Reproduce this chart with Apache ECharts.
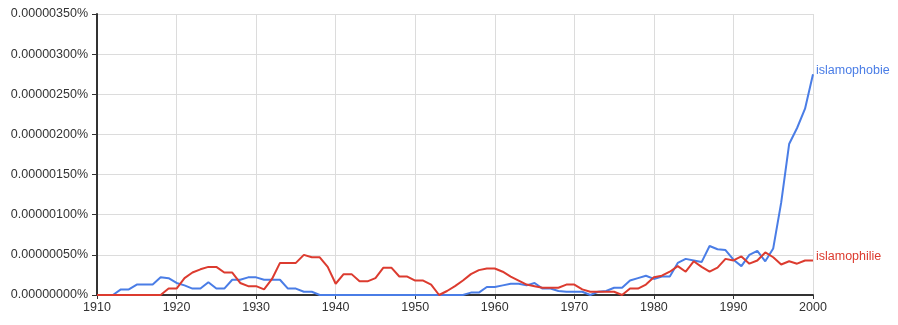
<!DOCTYPE html>
<html>
<head>
<meta charset="utf-8">
<script src="https://cdn.jsdelivr.net/npm/echarts@6/dist/echarts.min.js"></script>
<style>
html,body{margin:0;padding:0;background:#fff;}
#chart{width:898px;height:325px;}
</style>
</head>
<body>
<div id="chart"></div>
<script>
// Values in units of 1e-8 percent (e.g. 50 => 0.00000050%)
var years = [];
for (var y = 1910; y <= 2000; y++) years.push(y);

var islamophobie = [
  0, 0, 0, 7, 7, 13, 13, 13, 22, 21,          // 1910-1919
  15, 12, 8, 8, 16, 8, 8, 19, 19, 22,         // 1920-1929
  22, 19, 19, 19, 8, 8, 4, 4, 0, 0,           // 1930-1939
  0, 0, 0, 0, 0, 0, 0, 0, 0, 0,               // 1940-1949
  0, 0, 0, 0, 0, 0, 0, 3, 3, 10,              // 1950-1959
  10, 12, 14, 14, 12, 15, 8, 8, 5, 4,         // 1960-1969
  4, 4, 0, 4, 5, 9, 9, 18, 21, 24,            // 1970-1979
  20, 23, 23, 40, 45, 43, 41, 61, 57, 56,     // 1980-1989
  44, 36, 50, 55, 42, 58, 115, 188, 208, 232, // 1990-1999
  275                                         // 2000
];

var islamophilie = [
  0, 0, 0, 0, 0, 0, 0, 0, 0, 8,               // 1910-1919
  8, 21, 28, 32, 35, 35, 28, 28, 15, 11,      // 1920-1929
  11, 7, 20, 40, 40, 40, 50, 47, 47, 35,      // 1930-1939
  14, 26, 26, 17, 17, 21, 34, 34, 23, 23,     // 1940-1949
  18, 18, 13, 0, 5, 11, 18, 26, 31, 33,       // 1950-1959
  33, 29, 23, 18, 13, 11, 9, 9, 9, 13,        // 1960-1969
  13, 7, 4, 4, 4, 4, 0, 8, 8, 13,             // 1970-1979
  22, 24, 29, 36, 29, 42, 35, 29, 34, 45,     // 1980-1989
  43, 48, 39, 43, 53, 47, 38, 42, 39, 43,     // 1990-1999
  43                                          // 2000
];

var seriesNames = ['islamophobie', 'islamophilie'];
var seriesColors = ['#4a7de6', '#dc3b2f'];

function pairs(vals) {
  return years.map(function (yr, i) { return [yr, vals[i]]; });
}

var chart = echarts.init(document.getElementById('chart'), null, {renderer: 'canvas'});
var font = 'Liberation Sans, Arial, Helvetica, sans-serif';

function mkSeries(name, vals, color) {
  return {
    name: name,
    type: 'line',
    data: pairs(vals),
    showSymbol: false,
    symbol: 'none',
    lineStyle: {color: color, width: 2},
    itemStyle: {color: color},
    z: 3,
    endLabel: {
      show: true,
      formatter: name,
      color: color,
      fontSize: 12.5,
      fontFamily: font,
      distance: 3,
      offset: [0, -4]
    }
  };
}

chart.setOption({
  animation: false,
  grid: {left: 97, right: 85, top: 14, bottom: 30, containLabel: false},
  xAxis: {
    type: 'value',
    min: 1910,
    max: 2000,
    interval: 10,
    axisLine: {show: true, onZero: false, lineStyle: {color: '#333', width: 2}},
    axisTick: {show: true, length: 4, lineStyle: {color: '#333', width: 1}},
    axisLabel: {
      color: '#333', fontSize: 12.5, fontFamily: font, margin: 6,
      formatter: function (v) { return String(v); }
    },
    splitLine: {show: true, lineStyle: {color: '#dcdcdc', width: 1}}
  },
  yAxis: {
    type: 'value',
    min: 0,
    max: 350,
    interval: 50,
    axisLine: {show: true, lineStyle: {color: '#333', width: 2}},
    axisTick: {show: true, length: 5, lineStyle: {color: '#333', width: 1}},
    axisLabel: {
      color: '#333', fontSize: 12.5, fontFamily: font, margin: 9,
      formatter: function (v) { return (v / 1e8).toFixed(8) + '%'; }
    },
    splitLine: {show: true, lineStyle: {color: '#dcdcdc', width: 1}}
  },
  series: [
    mkSeries(seriesNames[0], islamophobie, seriesColors[0]),
    mkSeries(seriesNames[1], islamophilie, seriesColors[1])
  ]
});
</script>
</body>
</html>
